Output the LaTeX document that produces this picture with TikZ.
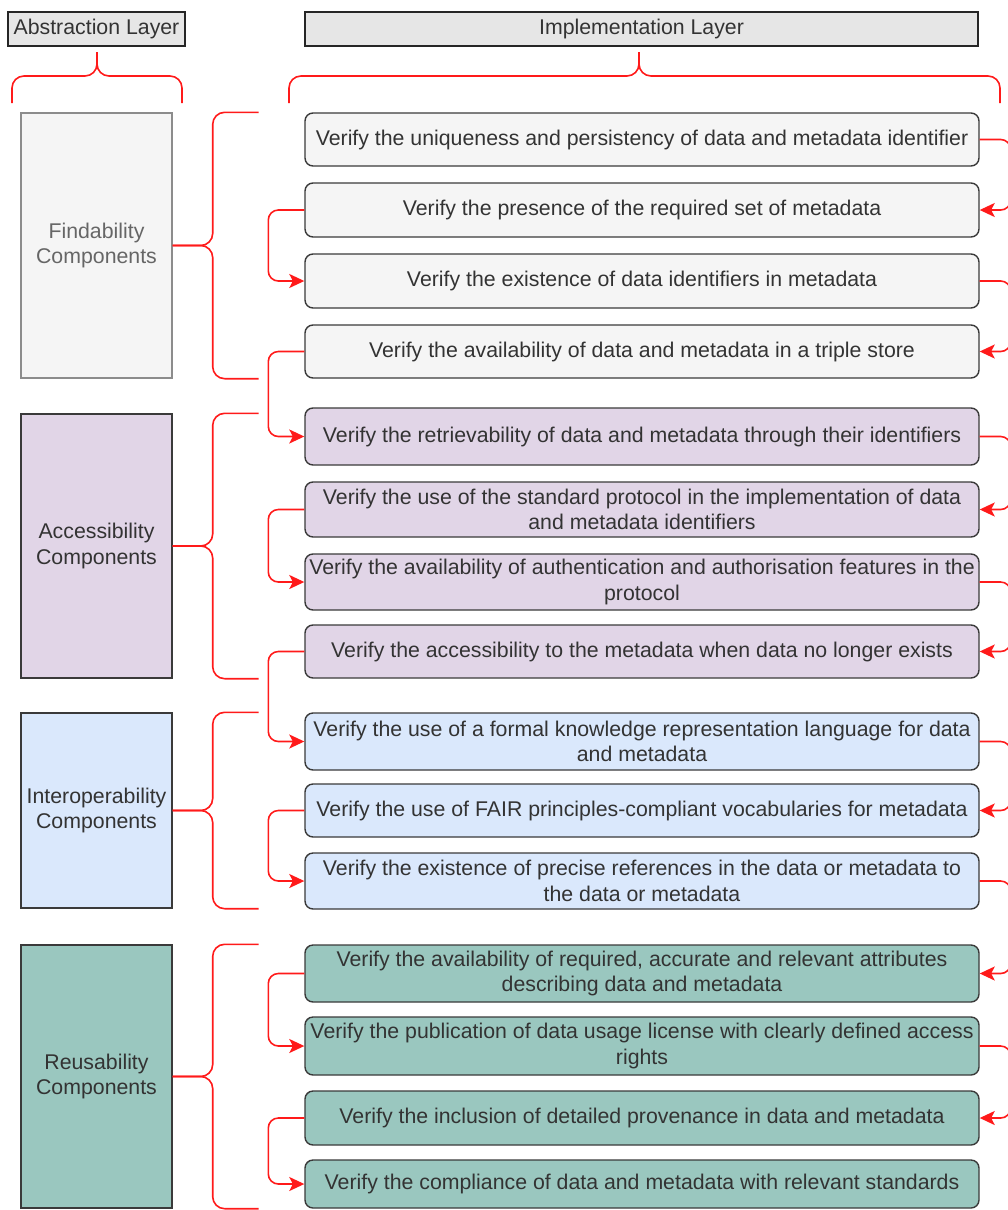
\documentclass[tikz,border=0pt]{standalone}
\usepackage{fontspec}
\setmainfont{Liberation Sans}
\usetikzlibrary{arrows.meta}

\definecolor{hdrfill}{HTML}{E6E6E6}
\definecolor{findfill}{HTML}{F5F5F5}
\definecolor{accfill}{HTML}{E1D5E7}
\definecolor{intfill}{HTML}{DAE8FC}
\definecolor{reufill}{HTML}{9AC7BF}
\definecolor{txt}{HTML}{333333}
\definecolor{edge}{HTML}{3A3A3A}
\definecolor{softedge}{HTML}{8C8C8C}
\definecolor{linkred}{HTML}{FF1A1A}

\begin{document}
\begin{tikzpicture}[
  x=1pt, y=-1pt,
  basefont/.style={font=\fontsize{21.3}{25.5}\selectfont, text=txt, align=center, inner sep=1pt},
  header/.style={basefont, draw=black!85, line width=1.4pt, fill=hdrfill, minimum height=34},
  group/.style={basefont, draw=edge, line width=1.4pt, minimum width=151},
  check/.style={basefont, draw=edge, line width=1.4pt, rounded corners=8pt, minimum width=674},
  brace/.style={draw=linkred, line width=1.6pt, rounded corners=12pt},
  conn/.style={draw=linkred, line width=1.6pt, rounded corners=10pt,
               -{Stealth[length=15pt,width=14pt,inset=3.5pt]}},
]
\useasboundingbox (0,0) rectangle (1008,1210);
\clip (0,0) rectangle (1008,1210);

% layer headers
\node[header, minimum width=177] (abs) at (96.5,29) {Abstraction Layer};
\node[header, minimum width=673] (imp) at (641.5,29) {Implementation Layer};

% braces under the headers
\draw[brace] (97,52) -- (97,76) -| (12,103);
\draw[brace] (97,52) -- (97,76) -| (182,103);
\draw[brace] (639,52) -- (639,76) -| (289,103);
\draw[brace] (639,52) -- (639,76) -| (1000,103);

% component groups
\node[group, fill=findfill, draw=softedge, text=black!60, minimum height=265] (find) at (96.5,245.5) {Findability\\Components};
\node[group, fill=accfill, minimum height=264] (acc) at (96.5,546) {Accessibility\\Components};
\node[group, fill=intfill, minimum height=195] (int) at (96.5,810.5) {Interoperability\\Components};
\node[group, fill=reufill, minimum height=263] (reu) at (96.5,1076.5) {Reusability\\Components};

% braces joining each group to its checks
\foreach \g in {find,acc,int,reu}{
  \draw[brace] (\g.east) -- ++(40,0) |- ([xshift=86pt]\g.north east);
  \draw[brace] (\g.east) -- ++(40,0) |- ([xshift=86pt]\g.south east);
}

% implementation checks
\node[check, fill=findfill, minimum height=53] (b1) at (642,139.5) {Verify the uniqueness and persistency of data and metadata identifier};
\node[check, fill=findfill, minimum height=54] (b2) at (642,210) {Verify the presence of the required set of metadata};
\node[check, fill=findfill, minimum height=54] (b3) at (642,281) {Verify the existence of data identifiers in metadata};
\node[check, fill=findfill, minimum height=53] (b4) at (642,351.5) {Verify the availability of data and metadata in a triple store};

\node[check, fill=accfill, minimum height=57] (b5) at (642,436.5) {Verify the retrievability of data and metadata through their identifiers};
\node[check, fill=accfill, minimum height=55] (b6) at (642,509.5) {Verify the use of the standard protocol in the implementation of data\\and metadata identifiers};
\node[check, fill=accfill, minimum height=56] (b7) at (642,582) {Verify the availability of authentication and authorisation features in the\\protocol};
\node[check, fill=accfill, minimum height=53] (b8) at (642,651.5) {Verify the accessibility to the metadata when data no longer exists};

\node[check, fill=intfill, minimum height=57] (b9) at (642,741.5) {Verify the use of a formal knowledge representation language for data\\and metadata};
\node[check, fill=intfill, minimum height=53] (b10) at (642,810.5) {Verify the use of FAIR principles-compliant vocabularies for metadata};
\node[check, fill=intfill, minimum height=56] (b11) at (642,881) {Verify the existence of precise references in the data or metadata to\\the data or metadata};

\node[check, fill=reufill, minimum height=57] (b12) at (642,973.5) {Verify the availability of required, accurate and relevant attributes\\describing data and metadata};
\node[check, fill=reufill, minimum height=58] (b13) at (642,1046) {Verify the publication of data usage license with clearly defined access\\rights};
\node[check, fill=reufill, minimum height=54] (b14) at (642,1118) {Verify the inclusion of detailed provenance in data and metadata};
\node[check, fill=reufill, minimum height=48] (b15) at (642,1184) {Verify the compliance of data and metadata with relevant standards};

% sequence links on the right side
\foreach \a/\b in {b1/b2,b3/b4,b5/b6,b7/b8,b9/b10,b11/b12,b13/b14}{
  \draw[conn] (\a.east) -- ++(31,0) |- (\b.east);
}
% sequence links on the left side
\foreach \a/\b in {b2/b3,b4/b5,b6/b7,b8/b9,b10/b11,b12/b13,b14/b15}{
  \draw[conn] (\a.west) -- ++(-36,0) |- (\b.west);
}
\end{tikzpicture}
\end{document}
